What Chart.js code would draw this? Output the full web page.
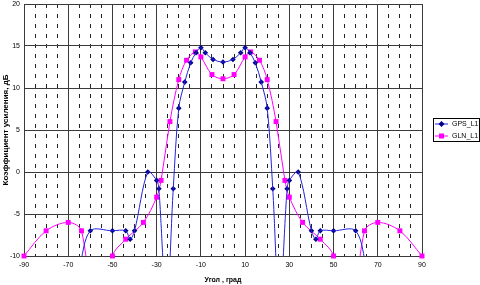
<!DOCTYPE html>
<html>
<head>
<meta charset="utf-8">
<script src="https://cdn.jsdelivr.net/npm/chart.js@4"></script>
<style>
  html, body { margin: 0; padding: 0; background: #fff; }
  #wrap { width: 480px; height: 285px; }
</style>
</head>
<body>
<div id="wrap"><canvas id="chart"></canvas></div>
<script>
const xTickLabels = [-90, -70, -50, -30, -10, 10, 30, 50, 70, 90];
const yTickLabels = [-10, -5, 0, 5, 10, 15, 20];

const gpsAngle = [-65, -60, -50, -44, -42, -40, -34, -30, -29, -25.5, -22.5, -20, -17.3, -14.6, -12.2, -10, -8, -4.5, 0,
  4.5, 8, 10, 12.2, 14.6, 17.3, 20, 22.5, 25.5, 29, 30, 34, 40, 42, 44, 50, 60, 65];
const gpsGain = [-11.5, -7, -7, -7, -8, -7, 0, -1, -2, -16, -2, 7.6, 10.7, 13.0, 14.2, 14.8, 14.2, 13.4, 13.1,
  13.4, 14.2, 14.8, 14.2, 13.0, 10.7, 7.6, -2, -16, -2, -1, 0, -7, -8, -7, -7, -7, -11.5];

const glnAngle = [-90, -80, -70, -64, -57, -50, -44, -36, -30, -28, -24, -20, -16.5, -12.5, -10, -5, 0,
  5, 10, 12.5, 16.5, 20, 24, 28, 30, 36, 44, 50, 57, 64, 70, 80, 90];
const glnGain = [-10, -7, -6, -7, -20, -10, -8, -6, -3, -1, 6, 11, 13.3, 14.3, 13.7, 11.6, 11.1,
  11.6, 13.7, 14.3, 13.3, 11, 6, -1, -3, -6, -8, -10, -20, -7, -6, -7, -10];

const FONT = "'Liberation Sans', Arial, sans-serif";
const gridColor = "#3a3a3a";
const yMin = yTickLabels[0];

const toPoints = (xs, ys) => xs.map((x, i) => ({ x: x, y: ys[i] }));

// line and markers are separate datasets: line is clipped to the plot, markers are not
const makeSeries = (label, xs, ys, lineColor, markColor, style, radius) => {
  const pts = toPoints(xs, ys);
  return [
    {
      label: label,
      data: pts,
      xAxisID: "x",
      borderColor: lineColor,
      borderWidth: 1,
      pointRadius: 0,
      tension: 0.33,
      clip: 0,
    },
    {
      label: label,
      data: pts,
      xAxisID: "x",
      showLine: false,
      isMarker: true,
      lineColor: lineColor,
      pointStyle: style,
      pointRadius: (c) => (c.raw && c.raw.y < yMin ? 0 : radius),
      backgroundColor: markColor,
      borderColor: markColor,
      borderWidth: 0,
      clip: false,
    },
  ];
};

const boxLegend = {
  id: "boxLegend",
  afterDraw(chart) {
    const ctx = chart.ctx;
    const items = chart.data.datasets.filter((d) => d.isMarker);
    const left = chart.chartArea.right + 11;
    const top = 118;
    const rowH = 12;
    ctx.save();
    ctx.strokeStyle = "#000";
    ctx.lineWidth = 1;
    ctx.strokeRect(left + 0.5, top + 0.5, 46, items.length * rowH - 1);
    items.forEach((d, i) => {
      const y = top + 6 + i * rowH;
      ctx.strokeStyle = d.lineColor;
      ctx.beginPath();
      ctx.moveTo(left + 2, y);
      ctx.lineTo(left + 15, y);
      ctx.stroke();
      ctx.fillStyle = d.backgroundColor;
      const mx = left + 8.5;
      if (d.pointStyle === "rect") {
        ctx.fillRect(mx - 2.5, y - 2.5, 5, 5);
      } else {
        ctx.beginPath();
        ctx.moveTo(mx, y - 3);
        ctx.lineTo(mx + 3, y);
        ctx.lineTo(mx, y + 3);
        ctx.lineTo(mx - 3, y);
        ctx.closePath();
        ctx.fill();
      }
      ctx.fillStyle = "#000";
      ctx.font = "7px " + FONT;
      ctx.textBaseline = "middle";
      ctx.textAlign = "left";
      ctx.fillText(d.label, left + 19, y + 0.5);
    });
    ctx.restore();
  },
};

new Chart(document.getElementById("chart"), {
  type: "line",
  data: {
    datasets: [
      ...makeSeries("GPS_L1", gpsAngle, gpsGain, "#2222dd", "#000088", "rectRot", 2.8),
      ...makeSeries("GLN_L1", glnAngle, glnGain, "#ff00ff", "#ff00ff", "rect", 3.5),
    ],
  },
  plugins: [boxLegend],
  options: {
    responsive: true,
    maintainAspectRatio: false,
    animation: false,
    layout: { padding: { top: 3, right: 58, bottom: 0, left: 0 } },
    elements: { line: { capBezierPoints: false } },
    plugins: {
      legend: { display: false },
      tooltip: { enabled: false },
    },
    scales: {
      x: {
        type: "linear",
        position: "bottom",
        min: xTickLabels[0],
        max: xTickLabels[xTickLabels.length - 1],
        afterBuildTicks: (s) => {
          s.ticks = xTickLabels.map((v) => ({ value: v }));
        },
        ticks: {
          autoSkip: false,
          maxRotation: 0,
          padding: 5,
          color: "#000",
          font: { family: FONT, size: 7 },
        },
        grid: { color: gridColor, drawTicks: false },
        border: { color: gridColor },
        title: {
          display: true,
          text: "Угол , град",
          color: "#000",
          font: { family: FONT, size: 7, weight: "bold" },
          padding: { top: 0, bottom: 1 },
        },
        afterFit: (s) => {
          s.height = 29;
          s.paddingLeft = 0;
          s.paddingRight = 0;
        },
      },
      xMinor: {
        type: "linear",
        position: "bottom",
        min: xTickLabels[0],
        max: xTickLabels[xTickLabels.length - 1],
        ticks: { display: false, stepSize: 5 },
        grid: {
          drawTicks: false,
          color: (c) => ((c.tick.value - xTickLabels[0]) % 20 === 0 ? "rgba(0,0,0,0)" : "#222"),
        },
        border: { display: false, dash: [4, 6] },
        afterFit: (s) => {
          s.height = 0;
          s.paddingLeft = 0;
          s.paddingRight = 0;
        },
      },
      y: {
        min: yTickLabels[0],
        max: yTickLabels[yTickLabels.length - 1],
        afterBuildTicks: (s) => {
          s.ticks = yTickLabels.map((v) => ({ value: v }));
        },
        ticks: {
          padding: 4,
          color: "#000",
          font: { family: FONT, size: 7 },
        },
        grid: { color: gridColor, drawTicks: false },
        border: { color: gridColor },
        title: {
          display: true,
          text: "Коэффициент усиления, дБ",
          color: "#000",
          font: { family: FONT, size: 8, weight: "bold" },
          padding: { top: 1, bottom: 0 },
        },
        afterFit: (s) => {
          s.width = 24;
          s.paddingTop = 0;
          s.paddingBottom = 0;
        },
      },
    },
  },
});
</script>
</body>
</html>
